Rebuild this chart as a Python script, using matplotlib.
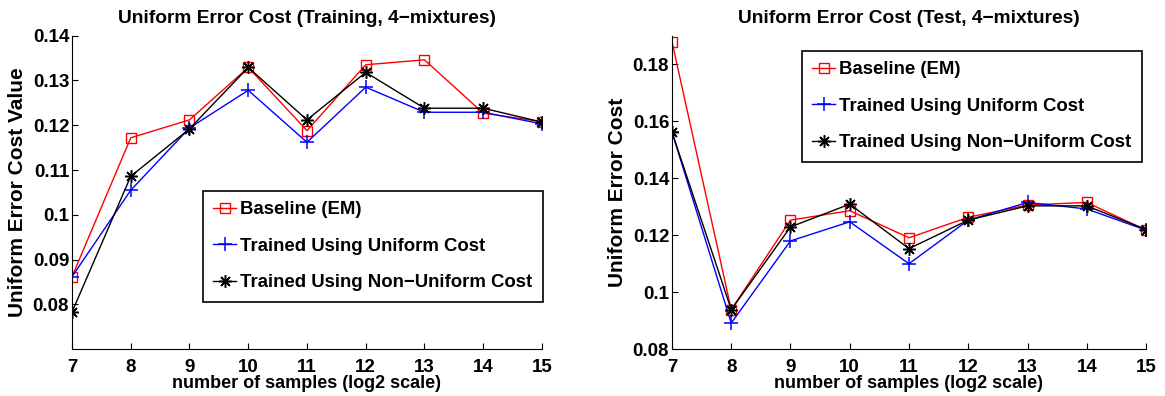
import matplotlib
matplotlib.use("Agg")
import matplotlib.pyplot as plt
from matplotlib.ticker import FuncFormatter

plt.rcParams['font.family'] = ['Liberation Sans', 'DejaVu Sans']
plt.rcParams['font.weight'] = 'bold'

# x axis: number of samples (log2)
samples = [7, 8, 9, 10, 11, 12, 13, 14, 15]

# Training set
train_baseline = [0.0862, 0.1172, 0.1212, 0.1329, 0.1188, 0.1335, 0.1346, 0.1227, 0.1208]
train_uniform = [0.0862, 0.1055, 0.1194, 0.1278, 0.1162, 0.1285, 0.1229, 0.1229, 0.1203]
train_nonuniform = [0.0783, 0.1086, 0.1192, 0.1329, 0.1212, 0.1318, 0.1238, 0.1238, 0.1207]

# Test set
test_baseline = [0.1879, 0.0939, 0.1253, 0.1286, 0.1191, 0.1263, 0.1306, 0.1315, 0.1218]
test_uniform = [0.1562, 0.0892, 0.1180, 0.1247, 0.1100, 0.1253, 0.1315, 0.1292, 0.1218]
test_nonuniform = [0.1562, 0.0939, 0.1229, 0.1309, 0.1153, 0.1253, 0.1303, 0.1303, 0.1220]

labels = ["Baseline (EM)", "Trained Using Uniform Cost", "Trained Using Non\u2212Uniform Cost"]

fig = plt.figure(figsize=(11.65, 3.96), dpi=100)
ax1 = fig.add_axes([0.0618, 0.118, 0.4034, 0.792])
ax2 = fig.add_axes([0.5768, 0.118, 0.4069, 0.792])

fmt = FuncFormatter(lambda v, p: "%g" % round(v, 4))
asterisk = (8, 2, 0)


def draw(ax, base, uni, nonuni, title, ylabel, ylim, yticks, legend_box):
    ax.plot(samples, base, color="red", marker="s", markersize=7.5,
            markerfacecolor="none", markeredgewidth=1, linewidth=1, label=labels[0])
    ax.plot(samples, uni, color="blue", marker="+", markersize=10,
            markeredgewidth=1.1, linewidth=1, label=labels[1])
    ax.plot(samples, nonuni, color="black", marker=asterisk, markersize=9,
            markeredgewidth=1.1, linewidth=1, label=labels[2])
    ax.set_xlim(7, 15)
    ax.set_ylim(*ylim)
    ax.set_xticks(samples)
    ax.set_yticks(yticks)
    ax.yaxis.set_major_formatter(fmt)
    ax.spines['top'].set_visible(False)
    ax.spines['right'].set_visible(False)
    ax.tick_params(direction="in", length=4, labelsize=13.5)
    ax.tick_params(axis="x", pad=7)
    ax.tick_params(axis="y", pad=2)
    ax.set_title(title, fontsize=13.8, fontweight="bold", pad=9)
    ax.set_xlabel("number of samples (log2 scale)", fontsize=13, fontweight="bold",
                  labelpad=-1)
    ax.set_ylabel(ylabel, fontsize=15, fontweight="bold", labelpad=4)
    leg = ax.legend(loc="upper left", bbox_to_anchor=legend_box, bbox_transform=fig.transFigure,
                    fancybox=False, edgecolor="black", fontsize=13.4, handlelength=1.25,
                    handletextpad=0.2, labelspacing=1.05, borderpad=0.55, borderaxespad=0,
                    framealpha=1)
    leg.get_frame().set_linewidth(1.2)


draw(ax1, train_baseline, train_uniform, train_nonuniform,
     "Uniform Error Cost (Training, 4\u2212mixtures)", "Uniform Error Cost Value",
     (0.07, 0.14), [0.08, 0.09, 0.10, 0.11, 0.12, 0.13, 0.14], (0.1742, 0.5177))
draw(ax2, test_baseline, test_uniform, test_nonuniform,
     "Uniform Error Cost (Test, 4\u2212mixtures)", "Uniform Error Cost",
     (0.08, 0.19), [0.08, 0.10, 0.12, 0.14, 0.16, 0.18], (0.6884, 0.8712))

fig.savefig("out.png", dpi=100)
